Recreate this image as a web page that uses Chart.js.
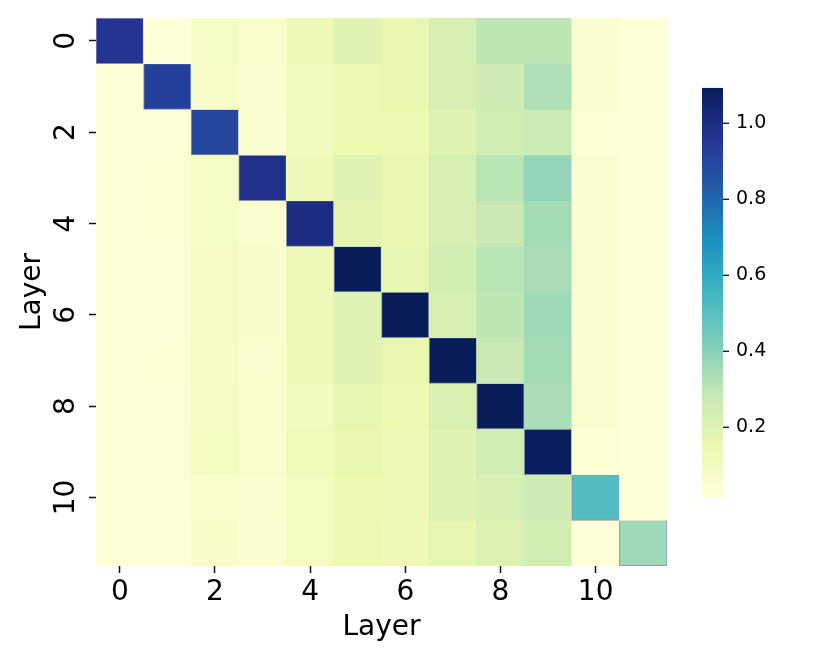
<!DOCTYPE html>
<html>
<head>
<meta charset="utf-8">
<script src="https://cdn.jsdelivr.net/npm/chart.js@4.4.1/dist/chart.umd.min.js"></script>
<style>
  body { margin: 0; background: #fff; }
  #wrap { width: 830px; height: 664px; }
</style>
</head>
<body>
<div id="wrap"><canvas id="heat"></canvas></div>
<script>
// layer x layer similarity
const layers = ['0', '1', '2', '3', '4', '5', '6', '7', '8', '9', '10', '11']
const row0 = [0.96, 0.02, 0.08, 0.06, 0.13, 0.19, 0.16, 0.23, 0.30, 0.30, 0.05, 0.02]
const row1 = [0.02, 0.92, 0.07, 0.05, 0.11, 0.15, 0.16, 0.23, 0.26, 0.33, 0.04, 0.02]
const row2 = [0.02, 0.025, 0.90, 0.045, 0.11, 0.15, 0.15, 0.20, 0.25, 0.27, 0.035, 0.02]
const row3 = [0.02, 0.03, 0.08, 0.98, 0.12, 0.19, 0.16, 0.23, 0.31, 0.38, 0.04, 0.02]
const row4 = [0.02, 0.03, 0.08, 0.055, 1.00, 0.18, 0.16, 0.23, 0.28, 0.35, 0.04, 0.02]
const row5 = [0.02, 0.025, 0.09, 0.065, 0.12, 1.09, 0.17, 0.24, 0.31, 0.34, 0.04, 0.02]
const row6 = [0.02, 0.025, 0.09, 0.065, 0.12, 0.19, 1.09, 0.23, 0.30, 0.36, 0.04, 0.02]
const row7 = [0.02, 0.03, 0.09, 0.055, 0.12, 0.19, 0.16, 1.09, 0.28, 0.35, 0.04, 0.02]
const row8 = [0.02, 0.025, 0.09, 0.06, 0.11, 0.17, 0.15, 0.22, 1.09, 0.34, 0.04, 0.02]
const row9 = [0.02, 0.025, 0.095, 0.06, 0.115, 0.16, 0.14, 0.19, 0.25, 1.08, 0.03, 0.02]
const row10 = [0.02, 0.025, 0.06, 0.055, 0.10, 0.15, 0.14, 0.19, 0.23, 0.26, 0.51, 0.02]
const row11 = [0.02, 0.02, 0.07, 0.045, 0.10, 0.15, 0.13, 0.17, 0.21, 0.24, 0.02, 0.36]
const rows = [row0, row1, row2, row3, row4, row5, row6, row7, row8, row9, row10, row11]

const shownTicks = [0, 2, 4, 6, 8, 10]
const cbTicks = [0.2, 0.4, 0.6, 0.8, 1.0]
const vMin = 0.014
const vMax = 1.093

// YlGnBu
const ylgnbu = ['#ffffd9', '#edf8b1', '#c7e9b4', '#7fcdbb', '#41b6c4', '#1d91c0', '#225ea8', '#253494', '#081d58']

function hexRgb(h) {
    return [parseInt(h.slice(1, 3), 16), parseInt(h.slice(3, 5), 16), parseInt(h.slice(5, 7), 16)]
}

function cmap(v) {
    let t = (v - vMin) / (vMax - vMin)
    t = Math.max(0, Math.min(1, t))
    const pos = t * (ylgnbu.length - 1)
    const i = Math.min(Math.floor(pos), ylgnbu.length - 2)
    const f = pos - i
    const a = hexRgb(ylgnbu[i]), b = hexRgb(ylgnbu[i + 1])
    const c = a.map((x, k) => Math.round(x + (b[k] - x) * f))
    return `rgb(${c[0]},${c[1]},${c[2]})`
}

const datasets = rows.map((vals, r) => ({
    label: 'row ' + r,
    data: vals.map(() => [r, r + 1]),
    backgroundColor: vals.map(v => cmap(v)),
    borderColor: vals.map((v, c) => c === r ? 'rgba(120,132,165,0.9)' : 'rgba(0,0,0,0)'),
    borderWidth: vals.map((v, c) => c === r ? 1 : 0),
    borderSkipped: false,
    grouped: false,
    barPercentage: 1,
    categoryPercentage: 1
}))

const font = 'DejaVu Sans'

// no extra edge padding from tick labels
function noPad(s) {
    s.paddingTop = 0
    s.paddingBottom = 0
    s.paddingLeft = 0
    s.paddingRight = 0
}

const colorbar = {
    id: 'colorbar',
    afterDraw(chart) {
        const cb = chart.scales.cb
        const ctx = chart.ctx
        const x0 = cb.left + 35
        const w = 21
        const yTop = cb.getPixelForValue(vMax)
        const yBot = cb.getPixelForValue(vMin)
        const grad = ctx.createLinearGradient(0, yBot, 0, yTop)
        ylgnbu.forEach((c, i) => grad.addColorStop(i / (ylgnbu.length - 1), c))
        ctx.save()
        ctx.fillStyle = grad
        ctx.fillRect(x0, yTop, w, yBot - yTop)
        ctx.strokeStyle = '#111'
        ctx.lineWidth = 1.3
        cbTicks.forEach(v => {
            const y = cb.getPixelForValue(v)
            ctx.beginPath()
            ctx.moveTo(x0 + w, y)
            ctx.lineTo(x0 + w + 6, y)
            ctx.stroke()
        })
        ctx.restore()
    }
}

let ctx = document.getElementById('heat').getContext('2d')
let heat = new Chart(ctx, {
    type: 'bar',
    data: { labels: layers, datasets: datasets },
    plugins: [colorbar],
    options: {
        responsive: true,
        maintainAspectRatio: false,
        animation: false,
        layout: { padding: { top: 18, left: 0, right: 0, bottom: 0 } },
        plugins: { legend: { display: false }, tooltip: { enabled: false } },
        scales: {
            x: {
                type: 'category',
                offset: true,
                afterBuildTicks: s => { s.ticks = s.ticks.filter(t => shownTicks.includes(t.value)) },
                afterFit: s => { s.height = 98; noPad(s) },
                grid: { display: true, offset: false, drawOnChartArea: false, drawTicks: true, tickLength: 7, tickWidth: 1.5, tickColor: '#111' },
                border: { display: false },
                ticks: { autoSkip: false, maxRotation: 0, padding: 3, color: '#000', font: { family: font, size: 28 } },
                title: { display: true, text: 'Layer', color: '#000', font: { family: font, size: 28 }, padding: { top: 0, bottom: 19.5 } }
            },
            y: {
                type: 'linear',
                position: 'left',
                min: 0,
                max: 12,
                reverse: true,
                afterBuildTicks: s => { s.ticks = shownTicks.map(v => ({ value: v + 0.5 })) },
                afterFit: s => { s.width = 96; noPad(s) },
                grid: { display: true, drawOnChartArea: false, drawTicks: true, tickLength: 7, tickWidth: 1.5, tickColor: '#111' },
                border: { display: false },
                ticks: {
                    minRotation: 90,
                    maxRotation: 90,
                    crossAlign: 'center',
                    padding: 4,
                    color: '#000',
                    font: { family: font, size: 28 },
                    callback: v => String(Math.round(v - 0.5))
                },
                title: { display: true, text: 'Layer', color: '#000', font: { family: font, size: 28 }, padding: { top: 15.5, bottom: 0 } }
            },
            cb: {
                type: 'linear',
                position: 'right',
                min: -0.165,
                max: 1.277,
                afterBuildTicks: s => { s.ticks = cbTicks.map(v => ({ value: v })) },
                afterFit: s => { s.width = 163; noPad(s) },
                grid: { display: false },
                border: { display: false },
                ticks: { padding: 61, color: '#000', font: { family: font, size: 19 }, callback: v => v.toFixed(1) }
            }
        }
    }
})
</script>
</body>
</html>
